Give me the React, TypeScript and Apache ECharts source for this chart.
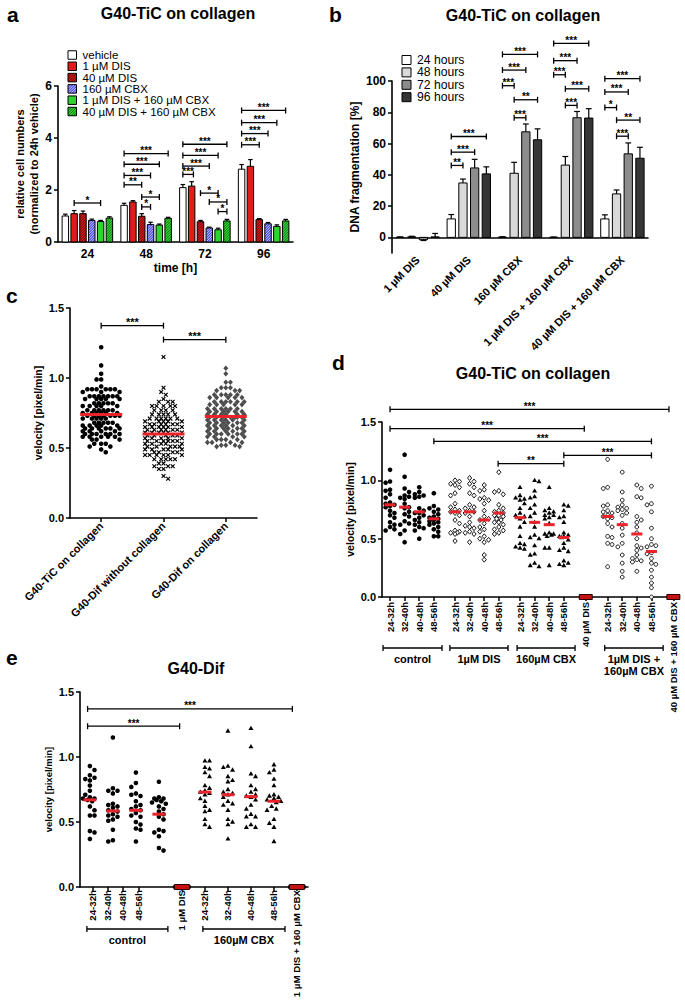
import React, { useEffect, useRef } from "react";
import * as echarts from "echarts";

const FONT = "'Liberation Sans', Arial, Helvetica, sans-serif";

/* ---------------- panel a ---------------- */
const aTimes = ["24", "48", "72", "96"];
const aTreatments = ["vehicle", "1 µM DIS", "40 µM DIS", "160 µM CBX", "1 µM DIS + 160 µM CBX", "40 µM DIS + 160 µM CBX"];
const aVehicle = [1.0, 1.41, 2.09, 2.8];
const aDIS1 = [1.09, 1.54, 2.15, 2.91];
const aDIS40 = [1.09, 0.99, 0.78, 0.86];
const aCBX = [0.83, 0.67, 0.54, 0.7];
const aDIS1CBX = [0.79, 0.65, 0.47, 0.6];
const aDIS40CBX = [0.92, 0.91, 0.81, 0.81];
const aVehicleErr = [0.07, 0.08, 0.12, 0.18];
const aDIS1Err = [0.12, 0.05, 0.17, 0.26];
const aDIS40Err = [0.1, 0.1, 0.05, 0.04];
const aCBXErr = [0.05, 0.09, 0.03, 0.05];
const aDIS1CBXErr = [0.04, 0.04, 0.06, 0.06];
const aDIS40CBXErr = [0.05, 0.04, 0.06, 0.06];
// [time index, bar from, bar to, height, label]
const aBrackets: [number, number, number, number, string][] = [
  [0, 1, 4, 1.5, "*"],
  [1, 0, 2, 2.2, "**"], [1, 0, 3, 2.56, "***"], [1, 0, 4, 2.99, "***"], [1, 0, 5, 3.4, "***"], [1, 2, 4, 1.73, "*"], [1, 2, 3, 1.35, "*"],
  [2, 0, 1.2, 2.6, "***"], [2, 0, 3, 2.92, "***"], [2, 0, 4, 3.33, "***"], [2, 0, 5, 3.76, "***"], [2, 2, 4, 1.88, "*"], [2, 3, 5, 1.54, "*"], [2, 4, 5, 1.17, "*"],
  [3, 0, 2, 3.74, "***"], [3, 0, 3, 4.17, "***"], [3, 0, 4, 4.59, "***"], [3, 0, 5, 5.06, "***"],
];

/* ---------------- panel b ---------------- */
const bGroups = ["1 µM DIS", "40 µM DIS", "160 µM CBX", "1 µM DIS + 160 µM CBX", "40 µM DIS + 160 µM CBX"];
const bTimes = ["24 hours", "48 hours", "72 hours", "96 hours"];
const b24 = [0, 11.8, 0.1, 0, 11.8];
const b48 = [0.3, 34.8, 41, 46.2, 27.8];
const b72 = [-1.5, 44.4, 67.5, 76.5, 53.4];
const b96 = [0.3, 40.6, 62.4, 76.3, 50.6];
const b24Err = [0.3, 2.8, 0.3, 0.2, 2.6];
const b48Err = [0.4, 2.5, 7, 5.5, 2.5];
const b72Err = [0.5, 5.5, 5, 4, 7];
const b96Err = [2.2, 4.5, 7, 6, 7];
const bYTicks = [0, 20, 40, 60, 80, 100];
const bBrackets: [number, number, number, number, string][] = [
  [1, 0, 1, 46, "**"], [1, 0, 2, 54.5, "***"], [1, 0, 3, 64.5, "***"],
  [2, 0, 1, 97, "***"], [2, 0, 2, 107, "***"], [2, 0, 3, 117, "***"], [2, 1, 2, 76.5, "***"], [2, 1, 3, 88, "**"],
  [3, 0, 1, 104, "***"], [3, 0, 2, 113, "***"], [3, 0, 3, 124, "***"], [3, 1, 2, 84.4, "***"], [3, 1, 3, 95, "***"],
  [4, 0, 1, 83, "*"], [4, 0, 2, 93, "***"], [4, 0, 3, 101.5, "***"], [4, 1, 2, 64.7, "***"], [4, 1, 3, 75, "**"],
];

/* ---------------- panel c ---------------- */
const cGroups = ["G40-TiC on collagen", "G40-Dif without collagen", "G40-Dif on collagen"];
// dot-plot rows: [velocity, number of cells in that row]
const cTiC: [number, number][] = [
  [1.22, 1], [1.09, 1], [1.03, 1], [0.99, 2], [0.94, 1], [0.92, 6], [0.9, 3], [0.87, 7], [0.85, 5], [0.82, 5], [0.8, 5],
  [0.77, 6], [0.75, 6], [0.73, 7], [0.71, 5], [0.68, 5], [0.66, 5], [0.64, 6], [0.62, 4], [0.6, 6], [0.58, 5], [0.56, 3],
  [0.53, 3], [0.51, 2], [0.49, 1], [0.47, 1],
];
const cDifNo: [number, number][] = [
  [1.15, 1], [0.93, 1], [0.9, 1], [0.88, 1], [0.85, 1], [0.83, 3], [0.8, 5], [0.77, 4], [0.74, 5], [0.71, 6], [0.69, 5],
  [0.67, 6], [0.65, 6], [0.63, 6], [0.61, 6], [0.59, 5], [0.57, 5], [0.55, 6], [0.53, 5], [0.51, 5], [0.49, 5], [0.47, 4],
  [0.45, 6], [0.42, 5], [0.39, 2], [0.37, 3], [0.35, 2], [0.3, 1], [0.28, 1],
];
const cDifOn: [number, number][] = [
  [1.07, 1], [1.03, 1], [0.97, 2], [0.93, 3], [0.91, 3], [0.88, 5], [0.86, 5], [0.83, 6], [0.81, 5], [0.78, 6], [0.76, 6],
  [0.74, 6], [0.72, 7], [0.7, 6], [0.68, 6], [0.66, 6], [0.64, 6], [0.62, 5], [0.6, 6], [0.58, 4], [0.56, 4], [0.54, 4],
  [0.52, 3], [0.51, 2],
];
const cMeans = [0.74, 0.6, 0.725];
const cBrackets: [number, number, number, string][] = [[0, 1, 1.374, "***"], [1, 2, 1.274, "***"]];

/* ---------------- panel d ---------------- */
const dControl = [
  [1.09, 0.99, 0.98, 0.92, 0.91, 0.88, 0.85, 0.81, 0.8, 0.79, 0.78, 0.77, 0.74, 0.72, 0.7, 0.68, 0.64, 0.62, 0.6, 0.58, 0.57],
  [1.22, 1.03, 0.93, 0.9, 0.87, 0.86, 0.85, 0.84, 0.8, 0.77, 0.76, 0.73, 0.71, 0.69, 0.65, 0.63, 0.62, 0.57, 0.54, 0.47],
  [0.94, 0.9, 0.88, 0.87, 0.86, 0.85, 0.76, 0.74, 0.72, 0.72, 0.7, 0.68, 0.66, 0.64, 0.62, 0.6, 0.59, 0.57, 0.5],
  [0.89, 0.78, 0.76, 0.75, 0.73, 0.71, 0.69, 0.68, 0.67, 0.67, 0.66, 0.65, 0.64, 0.63, 0.62, 0.6, 0.58, 0.56, 0.52, 0.52],
];
const dDIS1 = [
  [1.0, 0.99, 0.97, 0.96, 0.94, 0.89, 0.87, 0.8, 0.77, 0.75, 0.74, 0.73, 0.72, 0.7, 0.66, 0.63, 0.57, 0.56, 0.55, 0.55, 0.54, 0.48],
  [1.02, 0.99, 0.97, 0.94, 0.89, 0.87, 0.79, 0.77, 0.76, 0.74, 0.73, 0.72, 0.69, 0.64, 0.61, 0.6, 0.59, 0.56, 0.55, 0.54, 0.47],
  [0.96, 0.92, 0.91, 0.85, 0.84, 0.83, 0.8, 0.74, 0.69, 0.67, 0.66, 0.63, 0.6, 0.58, 0.56, 0.52, 0.5, 0.49, 0.47, 0.36, 0.32],
  [1.07, 0.91, 0.9, 0.88, 0.79, 0.76, 0.74, 0.73, 0.72, 0.7, 0.7, 0.69, 0.67, 0.66, 0.64, 0.64, 0.62, 0.6, 0.58, 0.57, 0.55, 0.54],
];
const dCBX = [
  [0.94, 0.87, 0.85, 0.84, 0.83, 0.8, 0.76, 0.72, 0.7, 0.69, 0.67, 0.64, 0.6, 0.52, 0.46, 0.45, 0.43, 0.42, 0.41],
  [1.0, 0.99, 0.91, 0.86, 0.85, 0.79, 0.76, 0.72, 0.69, 0.64, 0.6, 0.53, 0.51, 0.5, 0.44, 0.37, 0.36, 0.29, 0.27, 0.26],
  [0.94, 0.76, 0.74, 0.73, 0.72, 0.7, 0.7, 0.68, 0.67, 0.63, 0.55, 0.54, 0.54, 0.53, 0.52, 0.42, 0.42, 0.27],
  [0.79, 0.78, 0.74, 0.69, 0.68, 0.64, 0.55, 0.53, 0.52, 0.52, 0.51, 0.49, 0.46, 0.42, 0.4, 0.39, 0.31, 0.29, 0.28, 0.27],
];
const dDIS40 = [0, 0, 0, 0, 0, 0, 0, 0, 0, 0, 0, 0];
const dDIS1CBX = [
  [1.18, 0.94, 0.93, 0.79, 0.78, 0.74, 0.73, 0.72, 0.7, 0.69, 0.68, 0.67, 0.63, 0.6, 0.52, 0.51, 0.46, 0.45, 0.26],
  [1.07, 0.9, 0.83, 0.79, 0.77, 0.76, 0.75, 0.74, 0.72, 0.7, 0.63, 0.59, 0.53, 0.46, 0.43, 0.36, 0.29, 0.22, 0.17],
  [0.96, 0.93, 0.86, 0.85, 0.69, 0.66, 0.64, 0.6, 0.55, 0.5, 0.44, 0.42, 0.4, 0.36, 0.33, 0.32, 0.31, 0.3, 0.22],
  [0.95, 0.8, 0.79, 0.73, 0.59, 0.5, 0.45, 0.44, 0.43, 0.38, 0.37, 0.33, 0.29, 0.28, 0.23, 0.17, 0.12, 0.08, 0.0],
];
const dDIS40CBX = [0, 0, 0, 0, 0, 0, 0, 0, 0, 0, 0, 0];
const dMeans = [0.79, 0.77, 0.73, 0.67, 0.73, 0.73, 0.66, 0.72, 0.68, 0.64, 0.62, 0.51, 0, 0.69, 0.62, 0.54, 0.39, 0];
const dTickLabels = [
  "24-32h", "32-40h", "40-48h", "48-56h", "24-32h", "32-40h", "40-48h", "48-56h", "24-32h", "32-40h", "40-48h", "48-56h",
  "40 µM DIS", "24-32h", "32-40h", "40-48h", "48-56h", "40 µM DIS + 160 µM CBX",
];
const dGroupNames = ["control", "1µM DIS", "160µM CBX", "1µM DIS +\n160µM CBX"];
const dBrackets: [number, number, number, string][] = [
  [0, 19.1, 1.609, "***"], [0, 13.3, 1.443, "***"], [3, 17.9, 1.334, "***"], [7.4, 11.9, 1.143, "**"], [11.9, 17.9, 1.214, "***"],
];

/* ---------------- panel e ---------------- */
const eControl = [
  [0.93, 0.9, 0.86, 0.84, 0.83, 0.82, 0.78, 0.74, 0.71, 0.69, 0.68, 0.68, 0.67, 0.66, 0.62, 0.59, 0.55, 0.55, 0.43, 0.42, 0.37],
  [1.15, 0.76, 0.74, 0.74, 0.72, 0.64, 0.63, 0.62, 0.61, 0.59, 0.58, 0.56, 0.55, 0.54, 0.52, 0.51, 0.44, 0.36, 0.35],
  [0.88, 0.8, 0.77, 0.72, 0.71, 0.7, 0.66, 0.63, 0.62, 0.6, 0.59, 0.57, 0.55, 0.54, 0.5, 0.48, 0.45, 0.44, 0.35],
  [0.81, 0.69, 0.68, 0.68, 0.67, 0.66, 0.65, 0.64, 0.62, 0.6, 0.58, 0.56, 0.54, 0.52, 0.44, 0.43, 0.42, 0.39, 0.3, 0.28],
];
const eDIS1 = [0, 0, 0, 0, 0, 0, 0, 0, 0, 0, 0, 0];
const eCBX = [
  [0.97, 0.97, 0.92, 0.91, 0.88, 0.85, 0.78, 0.76, 0.74, 0.73, 0.72, 0.71, 0.68, 0.66, 0.62, 0.59, 0.58, 0.52, 0.48, 0.46],
  [1.2, 0.93, 0.92, 0.9, 0.85, 0.82, 0.81, 0.75, 0.73, 0.72, 0.71, 0.69, 0.66, 0.64, 0.63, 0.59, 0.52, 0.5, 0.48, 0.37],
  [1.22, 1.08, 0.87, 0.85, 0.78, 0.75, 0.73, 0.71, 0.7, 0.69, 0.67, 0.63, 0.6, 0.56, 0.54, 0.54, 0.48, 0.46, 0.46],
  [0.94, 0.9, 0.88, 0.83, 0.78, 0.71, 0.7, 0.69, 0.68, 0.67, 0.66, 0.65, 0.62, 0.6, 0.59, 0.52, 0.49, 0.46, 0.35],
];
const eDIS1CBX = [0, 0, 0, 0, 0, 0, 0, 0, 0, 0, 0, 0];
const eMeans = [0.67, 0.585, 0.59, 0.56, 0, 0.73, 0.71, 0.695, 0.66, 0];
const eTickLabels = ["24-32h", "32-40h", "40-48h", "48-56h", "1 µM DIS", "24-32h", "32-40h", "40-48h", "48-56h", "1 µM DIS + 160 µM CBX"];
const eGroupNames = ["control", "160µM CBX"];
const eBrackets: [number, number, number, string][] = [[-0.1, 8.8, 1.37, "***"], [-0.1, 3.9, 1.237, "***"]];

/* ---------------- layout (positions, not data) ---------------- */
const dPos = [0, 1, 2, 3, 4.45, 5.45, 6.45, 7.45, 8.9, 9.9, 10.9, 11.9, 13.4, 14.9, 15.9, 16.9, 17.9, 19.4];
const dGroupSpans = [[-0.48, 3.56], [4.1, 8.08], [8.7, 12.67], [14.7, 18.7]];
const ePointPos = [0, 1, 2, 3, 4, 5, 6, 7, 8, 9];
const eLabelPos = [0.13, 0.78, 1.43, 2.13, 4, 5, 6, 7, 8, 9];
const eGroupSpans = [[-0.13, 3.39], [4.91, 8.48]];

type Shape = "dot" | "x" | "gdiamond" | "odiamond" | "tri" | "ocircle";

const txtEl = (text: string, x: number, y: number, size: number, weight: string, align: string, valign: string, lh?: number): any => ({
  type: "text",
  silent: true,
  x,
  y,
  style: {
    text, fill: "#000000", fontSize: size, fontWeight: weight, fontFamily: FONT,
    align, verticalAlign: valign, lineHeight: lh || size,
  },
});

const lineEl = (x1: number, y1: number, x2: number, y2: number, w = 1.3, c = "#000"): any => ({
  type: "line", silent: true, shape: { x1, y1, x2, y2 }, style: { stroke: c, lineWidth: w },
});

const hatchLines = (x0: number, y0: number, w: number, h: number, color: string): any[] => {
  const s = 2.6;
  const out: any[] = [];
  for (let c = x0 + y0 + 1; c < x0 + w + y0 + h; c += s) {
    const xmin = Math.max(x0, c - (y0 + h));
    const xmax = Math.min(x0 + w, c - y0);
    if (xmax - xmin > 0.2) out.push(lineEl(xmin, c - xmin, xmax, c - xmax, 0.9, color));
  }
  return out;
};

function symbolEl(shape: Shape, x: number, y: number): any {
  switch (shape) {
    case "dot":
      return { type: "circle", silent: true, shape: { cx: x, cy: y, r: 2.3 }, style: { fill: "#000" } };
    case "ocircle":
      return { type: "circle", silent: true, shape: { cx: x, cy: y, r: 1.9 }, style: { fill: "#fff", stroke: "#000", lineWidth: 0.9 } };
    case "tri":
      return { type: "polygon", silent: true, shape: { points: [[x, y - 2.7], [x + 2.5, y + 1.7], [x - 2.5, y + 1.7]] }, style: { fill: "#000" } };
    case "odiamond":
      return { type: "polygon", silent: true, shape: { points: [[x, y - 2.5], [x + 2.1, y], [x, y + 2.5], [x - 2.1, y]] }, style: { fill: "#fff", stroke: "#000", lineWidth: 0.9 } };
    case "gdiamond":
      return { type: "polygon", silent: true, shape: { points: [[x, y - 2.8], [x + 2.5, y], [x, y + 2.8], [x - 2.5, y]] }, style: { fill: "#4d4d4d" } };
    default:
      return { type: "group", children: [lineEl(x - 1.9, y - 1.9, x + 1.9, y + 1.9, 1.2), lineEl(x - 1.9, y + 1.9, x + 1.9, y - 1.9, 1.2)] };
  }
}

function bracketEl(xa: number, xb: number, y: number, label: string, fs = 10): any {
  return {
    type: "group",
    children: [
      lineEl(xa, y, xb, y), lineEl(xa, y - 3, xa, y + 3), lineEl(xb, y - 3, xb, y + 3),
      txtEl(label, (xa + xb) / 2, y + 2, fs, "bold", "center", "bottom"),
    ],
  };
}

function swarmOffsets(values: number[], ppu: number, d: number, maxHalf: number): number[] {
  const idx = values.map((_, i) => i).sort((a, b) => values[b] - values[a]);
  const placed: [number, number][] = [];
  const res: number[] = values.map(() => 0);
  const step = d * 0.5;
  idx.forEach((i, n) => {
    const y = values[i] * ppu;
    const cands = [0];
    const sgn = n % 2 ? 1 : -1;
    for (let k = 1; k * step <= maxHalf; k++) cands.push(sgn * k * step, -sgn * k * step);
    let best = 0;
    let bestD = -1;
    for (const c of cands) {
      let md = Infinity;
      for (const p of placed) {
        const dd = Math.hypot(p[0] - c, p[1] - y);
        if (dd < md) md = dd;
      }
      if (md >= d) { best = c; break; }
      if (md > bestD) { bestD = md; best = c; }
    }
    res[i] = best;
    placed.push([best, y]);
  });
  return res;
}

const expandRows = (rows: [number, number][]) => rows.flatMap(([v, n]) => Array.from({ length: n }, () => v));

type BarStyle = { fill: string; hatch?: string };
const aStyles: BarStyle[] = [
  { fill: "#ffffff" }, { fill: "#e01b1b" }, { fill: "#d41c1c", hatch: "#5a0505" },
  { fill: "#5050e6", hatch: "#d0d0ff" }, { fill: "#30d430" }, { fill: "#30d430", hatch: "#0b6a0b" },
];
const bStyles: BarStyle[] = [{ fill: "#ffffff" }, { fill: "#d9d9d9" }, { fill: "#8c8c8c" }, { fill: "#363636" }];

const barRender = (bi: number, n: number, strideFrac: number, widthFrac: number, st: BarStyle) => (params: any, api: any) => {
  const cat = api.value(0);
  const v = api.value(1);
  const e = api.value(2);
  const c0 = api.coord([cat, 0]);
  const c1 = api.coord([cat, v]);
  const band = Math.abs(api.coord([1, 0])[0] - api.coord([0, 0])[0]);
  const cx = c0[0] + (bi - (n - 1) / 2) * band * strideFrac;
  const w = band * widthFrac;
  const x0 = cx - w / 2;
  const yTop = Math.min(c0[1], c1[1]);
  const h = Math.max(Math.abs(c0[1] - c1[1]), 0.01);
  const ce = api.coord([cat, v + (v < 0 ? -e : e)]);
  const tip = v >= 0 ? yTop : yTop + h;
  const kids: any[] = [{ type: "rect", silent: true, shape: { x: x0, y: yTop, width: w, height: h }, style: { fill: st.fill } }];
  if (st.hatch) kids.push(...hatchLines(x0, yTop, w, h, st.hatch));
  kids.push({ type: "rect", silent: true, shape: { x: x0, y: yTop, width: w, height: h }, style: { fill: "none", stroke: "#000", lineWidth: 1 } });
  kids.push(lineEl(cx, tip, cx, ce[1], 1.2), lineEl(cx - w * 0.35, ce[1], cx + w * 0.35, ce[1], 1.2));
  return { type: "group", children: kids };
};

const groupBracketRender = (brs: [number, number, number, number, string][], n: number, strideFrac: number) => (params: any, api: any) => {
  const b = brs[params.dataIndex];
  const c0 = api.coord([b[0], b[3]]);
  const band = Math.abs(api.coord([1, 0])[0] - api.coord([0, 0])[0]);
  const xa = c0[0] + (b[1] - (n - 1) / 2) * band * strideFrac;
  const xb = c0[0] + (b[2] - (n - 1) / 2) * band * strideFrac;
  return bracketEl(xa, xb, c0[1], b[4]);
};

const xyBracketRender = (brs: [number, number, number, string][], fs: number) => (params: any, api: any) => {
  const b = brs[params.dataIndex];
  const pa = api.coord([b[0], b[2]]);
  const pb = api.coord([b[1], b[2]]);
  return bracketEl(pa[0], pb[0], pa[1], b[3], fs);
};

const swarmRender = (shape: Shape) => (params: any, api: any) => {
  const p = api.coord([api.value(0), api.value(1)]);
  return symbolEl(shape, p[0] + api.value(2), p[1]);
};

const meanRender = (w: number) => (params: any, api: any) => {
  const v = api.value(1);
  const p = api.coord([api.value(0), v]);
  if (v === 0) {
    return { type: "rect", silent: true, shape: { x: p[0] - w / 2 - 1, y: p[1] - 2.5, width: w + 2, height: 5 }, style: { fill: "#c41212", stroke: "#2a0000", lineWidth: 1 } };
  }
  return lineEl(p[0] - w / 2, p[1], p[0] + w / 2, p[1], 3, "#e8242a");
};

const underRender = (spans: number[][], names: string[], gap: number) => (params: any, api: any) => {
  const s = spans[params.dataIndex];
  const p1 = api.coord([s[0], 0]);
  const p2 = api.coord([s[1], 0]);
  const y = p1[1] + gap;
  return {
    type: "group",
    children: [
      lineEl(p1[0], y, p2[0], y, 1.3), lineEl(p1[0], y - 3, p1[0], y + 3, 1.3), lineEl(p2[0], y - 3, p2[0], y + 3, 1.3),
      txtEl(names[params.dataIndex], (p1[0] + p2[0]) / 2, y + 5, 11, "bold", "center", "top", 12),
    ],
  };
};

const axisLine = { show: true, onZero: false, lineStyle: { color: "#000", width: 1.6 } };
const axisTick = { show: true, length: 4, inside: false, lineStyle: { color: "#000", width: 1.5 } };
const axisLabel = { color: "#000", fontWeight: "bold", fontFamily: FONT, fontSize: 11, margin: 6 };
const nameStyle = (size: number) => ({ color: "#000", fontWeight: "bold", fontFamily: FONT, fontSize: size, lineHeight: size + 3 });

const velocityAxis = (gridIndex: number, gap: number, size: number) => ({
  type: "value", gridIndex, min: 0, max: 1.5, interval: 0.5,
  axisLine, axisTick, splitLine: { show: false },
  axisLabel: { ...axisLabel, formatter: (v: number) => v.toFixed(1) },
  name: "velocity [pixel/min]", nameLocation: "middle", nameGap: gap, nameTextStyle: nameStyle(size),
});

const labelLookup = (pos: number[], labels: string[]) => (v: number) => {
  const i = pos.findIndex((p) => Math.abs(p - v) < 1e-6);
  return i >= 0 ? labels[i] : "";
};

function legendItems(x: number, y0: number, dy: number, size: number, names: string[], styles: BarStyle[], fs: number): any[] {
  const out: any[] = [];
  names.forEach((nm, i) => {
    const y = y0 + i * dy;
    out.push({ type: "rect", silent: true, shape: { x, y: y - size / 2, width: size, height: size }, style: { fill: styles[i].fill } });
    if (styles[i].hatch) out.push(...hatchLines(x, y - size / 2, size, size, styles[i].hatch as string));
    out.push({ type: "rect", silent: true, shape: { x, y: y - size / 2, width: size, height: size }, style: { fill: "none", stroke: "#000", lineWidth: 1 } });
    out.push(txtEl(nm, x + size + 6, y, fs, "normal", "left", "middle", Math.min(fs, dy - 1)));
  });
  return out;
}

function buildOption(): any {
  const series: any[] = [];
  const aVals = [aVehicle, aDIS1, aDIS40, aCBX, aDIS1CBX, aDIS40CBX];
  const aErrs = [aVehicleErr, aDIS1Err, aDIS40Err, aCBXErr, aDIS1CBXErr, aDIS40CBXErr];
  aVals.forEach((vals, bi) => {
    series.push({
      type: "custom", name: aTreatments[bi], xAxisIndex: 0, yAxisIndex: 0, clip: false, silent: true,
      itemStyle: { color: "#000" },
      renderItem: barRender(bi, 6, 0.15, 0.11, aStyles[bi]),
      data: vals.map((v, i) => [i, v, aErrs[bi][i]]),
    });
  });
  series.push({
    type: "custom", xAxisIndex: 0, yAxisIndex: 0, clip: false, silent: true, z: 4, itemStyle: { color: "#000" },
    renderItem: groupBracketRender(aBrackets, 6, 0.15), data: aBrackets.map((b) => [b[0], b[3]]),
  });

  const bVals = [b24, b48, b72, b96];
  const bErrs = [b24Err, b48Err, b72Err, b96Err];
  bVals.forEach((vals, bi) => {
    series.push({
      type: "custom", name: bTimes[bi], xAxisIndex: 1, yAxisIndex: 1, clip: false, silent: true, itemStyle: { color: "#000" },
      renderItem: barRender(bi, 4, 0.2285, 0.162, bStyles[bi]),
      data: vals.map((v, i) => [i, v, bErrs[bi][i]]),
    });
  });
  series.push({
    type: "custom", xAxisIndex: 1, yAxisIndex: 1, clip: false, silent: true, z: 4, itemStyle: { color: "#000" },
    renderItem: groupBracketRender(bBrackets, 4, 0.2285), data: bBrackets.map((b) => [b[0], b[3]]),
  });

  // panel c
  const cSets = [expandRows(cTiC), expandRows(cDifNo), expandRows(cDifOn)];
  const cShapes: Shape[] = ["dot", "x", "gdiamond"];
  cSets.forEach((vals, gi) => {
    const offs = swarmOffsets(vals, 140, 4.6, 20);
    series.push({
      type: "custom", xAxisIndex: 2, yAxisIndex: 2, clip: false, silent: true, itemStyle: { color: "#000" },
      renderItem: swarmRender(cShapes[gi]), data: vals.map((v, k) => [gi, v, offs[k]]),
    });
  });
  series.push({ type: "custom", xAxisIndex: 2, yAxisIndex: 2, clip: false, silent: true, z: 5, renderItem: meanRender(42), data: cMeans.map((m, i) => [i, m]) });
  series.push({ type: "custom", xAxisIndex: 2, yAxisIndex: 2, clip: false, silent: true, itemStyle: { color: "#000" }, renderItem: xyBracketRender(cBrackets, 11), data: cBrackets.map((b) => [b[0], b[2]]) });

  // panel d
  const dCols = [...dControl, ...dDIS1, ...dCBX, dDIS40, ...dDIS1CBX, dDIS40CBX];
  const dShapes: Shape[] = [
    "dot", "dot", "dot", "dot", "odiamond", "odiamond", "odiamond", "odiamond", "tri", "tri", "tri", "tri",
    "dot", "ocircle", "ocircle", "ocircle", "ocircle", "dot",
  ];
  dCols.forEach((vals, j) => {
    const offs = swarmOffsets(vals, 116.7, 4.4, 6.5);
    series.push({
      type: "custom", xAxisIndex: 3, yAxisIndex: 3, clip: false, silent: true, itemStyle: { color: "#000" },
      renderItem: swarmRender(dShapes[j]), data: vals.map((v, k) => [dPos[j], v, offs[k]]),
    });
  });
  series.push({ type: "custom", xAxisIndex: 3, yAxisIndex: 3, clip: false, silent: true, z: 5, renderItem: meanRender(11), data: dMeans.map((m, j) => [dPos[j], m]) });
  series.push({ type: "custom", xAxisIndex: 3, yAxisIndex: 3, clip: false, silent: true, itemStyle: { color: "#000" }, renderItem: xyBracketRender(dBrackets, 10), data: dBrackets.map((b) => [b[0], b[2]]) });
  series.push({ type: "custom", xAxisIndex: 3, yAxisIndex: 3, clip: false, silent: true, itemStyle: { color: "#000" }, renderItem: underRender(dGroupSpans, dGroupNames, 51), data: dGroupSpans.map((s) => [s[0], 0]) });

  // panel e
  const eCols = [...eControl, eDIS1, ...eCBX, eDIS1CBX];
  const eShapes: Shape[] = ["dot", "dot", "dot", "dot", "dot", "tri", "tri", "tri", "tri", "dot"];
  eCols.forEach((vals, j) => {
    const offs = swarmOffsets(vals, 130, 4.6, 9);
    series.push({
      type: "custom", xAxisIndex: 4, yAxisIndex: 4, clip: false, silent: true, itemStyle: { color: "#000" },
      renderItem: swarmRender(eShapes[j]), data: vals.map((v, k) => [ePointPos[j], v, offs[k]]),
    });
  });
  series.push({ type: "custom", xAxisIndex: 4, yAxisIndex: 4, clip: false, silent: true, z: 5, renderItem: meanRender(13), data: eMeans.map((m, j) => [ePointPos[j], m]) });
  series.push({ type: "custom", xAxisIndex: 4, yAxisIndex: 4, clip: false, silent: true, itemStyle: { color: "#000" }, renderItem: xyBracketRender(eBrackets, 10), data: eBrackets.map((b) => [b[0], b[2]]) });
  series.push({ type: "custom", xAxisIndex: 4, yAxisIndex: 4, clip: false, silent: true, itemStyle: { color: "#000" }, renderItem: underRender(eGroupSpans, eGroupNames, 42), data: eGroupSpans.map((s) => [s[0], 0]) });

  const graphics: any[] = [
    txtEl("a", 7, 14, 21, "bold", "left", "middle"),
    txtEl("G40-TiC on collagen", 178, 13, 16, "bold", "center", "middle"),
    txtEl("b", 329, 14, 21, "bold", "left", "middle"),
    txtEl("G40-TiC on collagen", 523, 15, 16, "bold", "center", "middle"),
    txtEl("c", 6, 295, 21, "bold", "left", "middle"),
    txtEl("d", 332, 362, 21, "bold", "left", "middle"),
    txtEl("G40-TiC on collagen", 533, 373, 16, "bold", "center", "middle"),
    txtEl("e", 6, 657, 21, "bold", "left", "middle"),
    txtEl("G40-Dif", 196, 668, 16, "bold", "center", "middle"),
    ...legendItems(68, 55, 11.3, 8.5, aTreatments, aStyles, 11.5),
    ...legendItems(402, 60, 12.4, 9, bTimes, bStyles, 12.2),
  ];

  return {
    animation: false,
    backgroundColor: "#ffffff",
    textStyle: { fontFamily: FONT },
    graphic: { elements: graphics },
    grid: [
      { left: 58, top: 86, width: 235, height: 156, outerBoundsMode: "none" },
      { left: 392, top: 81, width: 256, height: 172, outerBoundsMode: "none" },
      { left: 70, top: 308, width: 187, height: 210, outerBoundsMode: "none" },
      { left: 382, top: 422, width: 295, height: 175, outerBoundsMode: "none" },
      { left: 80, top: 692, width: 228, height: 195, outerBoundsMode: "none" },
    ],
    xAxis: [
      {
        type: "category", gridIndex: 0, data: aTimes, boundaryGap: true,
        axisLine, axisTick: { show: false }, splitLine: { show: false },
        axisLabel: { ...axisLabel, fontSize: 12, margin: 6, interval: 0 },
        name: "time [h]", nameLocation: "middle", nameGap: 18, nameTextStyle: nameStyle(12),
      },
      {
        type: "category", gridIndex: 1, data: bGroups, boundaryGap: true,
        axisLine: { ...axisLine, onZero: true }, axisTick: { show: false }, splitLine: { show: false },
        axisLabel: { ...axisLabel, fontSize: 11, rotate: 45, margin: 5, interval: 0 },
      },
      {
        type: "category", gridIndex: 2, data: cGroups, boundaryGap: true,
        axisLine, axisTick: { ...axisTick, alignWithLabel: true }, splitLine: { show: false },
        axisLabel: { ...axisLabel, fontSize: 11, rotate: 45, margin: 6, interval: 0 },
      },
      {
        type: "value", gridIndex: 3, min: -0.55, max: 19.65,
        axisLine, splitLine: { show: false },
        axisTick: { ...axisTick, customValues: dPos },
        axisLabel: { ...axisLabel, fontSize: 9.5, rotate: 90, margin: 5, customValues: dPos, formatter: labelLookup(dPos, dTickLabels) },
      },
      {
        type: "value", gridIndex: 4, min: -0.43, max: 9.48,
        axisLine, splitLine: { show: false },
        axisTick: { ...axisTick, customValues: eLabelPos },
        axisLabel: { ...axisLabel, fontSize: 9.7, rotate: 90, margin: 3, customValues: eLabelPos, formatter: labelLookup(eLabelPos, eTickLabels) },
      },
    ],
    yAxis: [
      {
        type: "value", gridIndex: 0, min: 0, max: 6, interval: 2,
        axisLine, axisTick, splitLine: { show: false },
        axisLabel: { ...axisLabel, fontSize: 12 },
        name: "relative cell numbers\n(normalized to 24h vehicle)", nameLocation: "middle", nameGap: 9, nameTextStyle: nameStyle(11),
      },
      {
        type: "value", gridIndex: 1, min: -10, max: 100,
        axisLine, splitLine: { show: false },
        axisTick: { ...axisTick, customValues: bYTicks },
        axisLabel: { ...axisLabel, fontSize: 12, customValues: bYTicks },
        name: "DNA fragmentation [%]", nameLocation: "middle", nameGap: 20, nameTextStyle: nameStyle(12),
      },
      velocityAxis(2, 19, 10.5),
      velocityAxis(3, 10, 10.5),
      velocityAxis(4, 13, 9.5),
    ],
    series,
  };
}

export default function App() {
  const ref = useRef<HTMLDivElement>(null);
  useEffect(() => {
    document.body.style.margin = "0";
    const chart = echarts.init(ref.current as HTMLDivElement, undefined, { renderer: "svg" });
    chart.setOption(buildOption());
    return () => chart.dispose();
  }, []);
  return <div ref={ref} style={{ width: 685, height: 1001, background: "#fff" }} />;
}
